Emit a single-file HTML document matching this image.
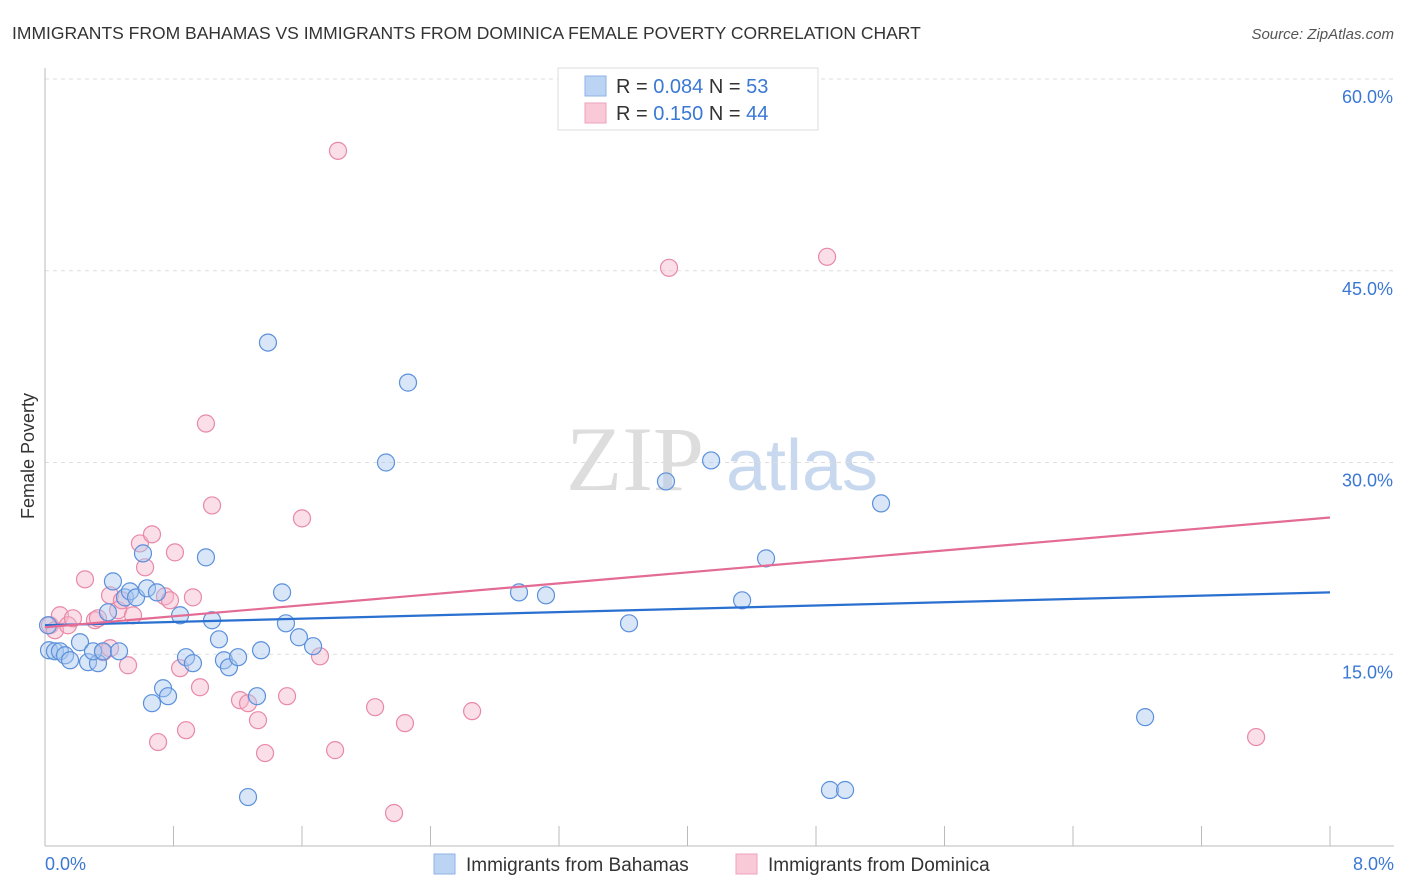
<!DOCTYPE html>
<html><head><meta charset="utf-8"><style>
body{margin:0;background:#fff;font-family:"Liberation Sans",sans-serif}
svg{display:block}
</style></head><body>
<svg id="chart" width="1406" height="892" xmlns="http://www.w3.org/2000/svg">
<text x="12" y="39" font-size="17.5" fill="#333">IMMIGRANTS FROM BAHAMAS VS IMMIGRANTS FROM DOMINICA FEMALE POVERTY CORRELATION CHART</text>
<text x="1394" y="39" font-size="15" fill="#555" font-style="italic" text-anchor="end">Source: ZipAtlas.com</text>
<text x="34" y="456" font-size="18" fill="#333" text-anchor="middle" transform="rotate(-90 34 456)">Female Poverty</text>
<g><text x="635" y="490" font-size="92" fill="#ddd" font-family="Liberation Serif,serif" text-anchor="middle">ZIP</text><text x="802" y="490" font-size="72" fill="#c8d8ee" text-anchor="middle">atlas</text></g>
<g id="grid"></g><g id="axes"></g><g id="marks"></g>
<g>
<rect x="558" y="68" width="260" height="62" fill="#fff" stroke="#ddd"/>
<rect x="585" y="76" width="21" height="20" fill="#bcd4f4" stroke="#8fb2e6"/>
<rect x="585" y="103" width="21" height="20" fill="#f9c9d8" stroke="#eea2bb"/>
<text x="616" y="93" font-size="20" fill="#333">R = <tspan fill="#3b78d4">0.084</tspan>   N = <tspan fill="#3b78d4"> 53</tspan></text>
<text x="616" y="120" font-size="20" fill="#333">R =  <tspan fill="#3b78d4">0.150</tspan>   N = <tspan fill="#3b78d4">44</tspan></text>
</g>
<g>
<rect x="434" y="854" width="21" height="20" fill="#bcd4f4" stroke="#8fb2e6"/>
<text x="466" y="871" font-size="19" fill="#333">Immigrants from Bahamas</text>
<rect x="736" y="854" width="21" height="20" fill="#f9c9d8" stroke="#eea2bb"/>
<text x="768" y="871" font-size="19" fill="#333">Immigrants from Dominica</text>
</g>
</svg>
<script>
const yTicks=[15,30,45,60];
const yTickLabels=["15.0%","30.0%","45.0%","60.0%"];
const xTickLabels=["0.0%","8.0%"];
const bahamasX=[.025,.062,.093,.125,.156,.218,.268,.330,.299,.361,.392,.423,.461,.498,.529,.567,.610,.635,.666,.697,.735,.766,.841,.878,.921,1.002,1.040,1.083,1.114,1.145,1.202,1.264,1.320,1.345,1.388,1.476,1.500,1.581,1.669,2.123,2.260,2.951,3.119,3.636,3.866,4.147,4.340,4.489,5.205,6.849,4.887,4.981,.019];
const bahamasY=[15.31,15.23,15.23,14.92,14.53,15.94,14.38,14.30,15.23,15.23,18.28,20.70,15.23,19.45,19.92,19.45,22.89,20.16,11.17,19.84,12.34,11.72,18.05,14.77,14.30,22.58,17.66,16.17,14.53,13.98,14.77,3.83,11.72,15.31,39.38,19.84,17.42,16.33,15.63,30.0,36.25,19.84,19.61,17.42,28.52,30.16,19.22,22.5,26.80,10.08,4.38,4.38,17.27];
const dominicaX=[.031,.062,.093,.143,.174,.249,.311,.330,.361,.405,.455,.479,.517,.548,.591,.623,.666,.704,.747,.778,.809,.841,.878,.921,.965,1.002,1.040,1.214,1.264,1.326,1.370,1.507,1.600,1.712,1.806,1.824,2.055,2.173,2.241,2.659,3.885,4.869,7.540,.405];
const dominicaY=[17.27,16.88,18.05,17.27,17.81,20.86,17.66,17.81,15.16,19.61,18.44,19.22,14.14,18.05,23.67,21.80,24.38,8.13,19.53,19.22,22.97,13.91,9.06,19.45,12.42,33.05,26.64,11.41,11.17,9.84,7.27,11.72,25.63,14.84,7.5,54.38,10.86,2.58,9.61,10.55,45.23,46.09,8.52,15.47];
const trendBahamas=[17.27,19.84];
const trendDominica=[17.11,25.70];
const xMin=0,xMax=8,yMin=0,yMax=60;
const X=v=>45+(v-xMin)/(xMax-xMin)*1285;
const Y=v=>846-(v-yMin)/(yMax-yMin)*767;
const NS="http://www.w3.org/2000/svg";
function mk(t,a,p){const e=document.createElementNS(NS,t);for(const k in a)e.setAttribute(k,a[k]);p.appendChild(e);return e;}
const grid=document.getElementById('grid'),axes=document.getElementById('axes'),marks=document.getElementById('marks');
yTicks.forEach((t,i)=>{
 const l=mk('line',{x1:45,x2:1394,y1:Y(t),y2:Y(t),stroke:'#ddd','stroke-dasharray':'4,4'},grid);
 
 
 const tx=mk('text',{x:1393,y:Y(t)+24,'font-size':18,fill:'#3b78d4','text-anchor':'end'},axes);
 tx.textContent=yTickLabels[i];
 
 
});
const ya=mk('line',{x1:45,x2:45,y1:68,y2:846,stroke:'#bbb'},axes);


const xa=mk('line',{x1:45,x2:1394,y1:846,y2:846,stroke:'#bbb'},axes);


for(let i=0;i<=10;i++){const t=mk('line',{x1:X(i*0.8),x2:X(i*0.8),y1:826,y2:846,stroke:'#bbb'},axes);
 
 }
[[xMin,45,'start'],[xMax,1394,'end']].forEach((d,i)=>{const t=mk('text',{x:d[1],y:870,'font-size':18,fill:'#3b78d4','text-anchor':d[2]},axes);t.textContent=xTickLabels[i];
 
 });
function dots(xs,ys,fill,stroke,name){xs.forEach((x,i)=>{const c=mk('circle',{cx:X(x),cy:Y(ys[i]),r:8.5,fill:fill,'fill-opacity':0.45,stroke:stroke,'stroke-width':1.2},marks);
 
 });}
dots(dominicaX,dominicaY,'#f7b8cc','#e889a8','point-dominica');
dots(bahamasX,bahamasY,'#a9c8f0','#5b90dc','point-bahamas');
const lb=mk('line',{x1:X(xMin),x2:X(xMax),y1:Y(trendBahamas[0]),y2:Y(trendBahamas[1]),stroke:'#2a70d0','stroke-width':2.2},marks);


const ld=mk('line',{x1:X(xMin),x2:X(xMax),y1:Y(trendDominica[0]),y2:Y(trendDominica[1]),stroke:'#e36b94','stroke-width':2.2},marks);


</script>
</body></html>
